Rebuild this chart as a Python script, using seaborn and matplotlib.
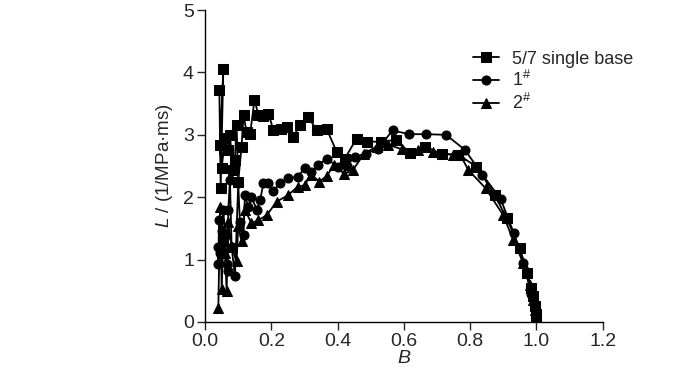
import pandas as pd
import matplotlib
matplotlib.use("Agg")
import matplotlib.pyplot as plt
import seaborn as sns

# -------------------------------
# Data
# -------------------------------
sq_B = [0.043, 0.047, 0.055, 0.045, 0.050, 0.060, 0.070, 0.075, 0.083, 0.090,
        0.095, 0.100, 0.110, 0.116, 0.125, 0.136, 0.149, 0.161, 0.175, 0.191,
        0.206, 0.230, 0.246, 0.266, 0.286, 0.310, 0.337, 0.367, 0.397, 0.422,
        0.457, 0.490, 0.530, 0.576, 0.618, 0.665, 0.716, 0.764, 0.819, 0.874,
        0.910, 0.950, 0.973, 0.985, 0.990, 0.995, 0.998, 1.000]
sq_L = [3.72, 2.14, 4.05, 2.84, 2.46, 2.95, 2.76, 3.00, 2.44, 2.60,
        3.16, 2.25, 2.81, 3.32, 3.05, 3.02, 3.56, 3.32, 3.30, 3.34,
        3.08, 3.10, 3.13, 2.96, 3.16, 3.29, 3.08, 3.09, 2.73, 2.62,
        2.94, 2.89, 2.89, 2.92, 2.71, 2.81, 2.69, 2.68, 2.49, 2.04,
        1.66, 1.18, 0.78, 0.55, 0.41, 0.25, 0.12, 0.02]

c_B = [0.038, 0.040, 0.042, 0.045, 0.050, 0.055, 0.060, 0.066, 0.068, 0.070,
       0.075, 0.080, 0.090, 0.100, 0.105, 0.116, 0.120, 0.130, 0.140, 0.156,
       0.166, 0.176, 0.190, 0.205, 0.226, 0.251, 0.280, 0.300, 0.320, 0.340,
       0.367, 0.402, 0.427, 0.452, 0.487, 0.522, 0.566, 0.616, 0.666, 0.727,
       0.784, 0.837, 0.892, 0.932, 0.960, 0.985, 0.998, 1.000]
c_L = [1.20, 0.93, 1.63, 1.10, 1.45, 1.80, 1.37, 0.93, 0.82, 1.80,
       2.28, 1.20, 0.73, 2.22, 1.60, 1.39, 2.03, 1.85, 2.00, 1.80,
       1.95, 2.22, 2.22, 2.10, 2.22, 2.30, 2.33, 2.46, 2.40, 2.52,
       2.61, 2.49, 2.50, 2.65, 2.70, 2.78, 3.07, 3.01, 3.01, 3.00,
       2.76, 2.36, 1.97, 1.42, 0.94, 0.45, 0.15, 0.03]

t_B = [0.040, 0.045, 0.050, 0.050, 0.055, 0.060, 0.065, 0.070, 0.080, 0.095,
       0.100, 0.110, 0.120, 0.140, 0.160, 0.186, 0.216, 0.250, 0.280, 0.300,
       0.320, 0.345, 0.367, 0.390, 0.420, 0.447, 0.480, 0.518, 0.553, 0.593,
       0.643, 0.688, 0.747, 0.770, 0.794, 0.847, 0.900, 0.930, 0.960, 0.982,
       0.990, 0.996, 1.000]
t_L = [0.22, 1.85, 0.40, 0.67, 1.30, 1.10, 0.50, 1.60, 1.20, 0.97,
       1.54, 1.30, 1.80, 1.58, 1.63, 1.71, 1.93, 2.03, 2.17, 2.19,
       2.36, 2.25, 2.34, 2.52, 2.37, 2.44, 2.70, 2.81, 2.84, 2.77,
       2.75, 2.73, 2.68, 2.68, 2.44, 2.14, 1.71, 1.31, 0.95, 0.59,
       0.35, 0.19, 0.00]

labels = ["5/7 single base", r"1$^{\#}$", r"2$^{\#}$"]
markers = ["s", "o", "^"]

# -------------------------------
# Style
# -------------------------------
sns.set_style("ticks")
plt.rcParams["font.family"] = ["Liberation Sans", "DejaVu Sans"]
plt.rcParams["mathtext.fontset"] = "custom"
plt.rcParams["mathtext.rm"] = "Liberation Sans"
plt.rcParams["mathtext.it"] = "Liberation Sans:italic"

fig = plt.figure(figsize=(7, 3.73), dpi=100)
ax = fig.add_axes([0.293, 0.137, 0.568, 0.836])

series = [(sq_B, sq_L), (c_B, c_L), (t_B, t_L)]
for (xs, ys), lab, m in zip(series, labels, markers):
    df = pd.DataFrame({"B": xs, "L": ys})
    sns.lineplot(
        data=df, x="B", y="L", sort=False, ax=ax,
        color="black", linewidth=1.3, marker=m, markersize=6.5,
        markeredgecolor="black", label=lab
    )

ax.set_xlim(0, 1.2)
ax.set_ylim(0, 5)
ax.set_xticks([0.0, 0.2, 0.4, 0.6, 0.8, 1.0, 1.2])
ax.set_xticklabels(["0.0", "0.2", "0.4", "0.6", "0.8", "1.0", "1.2"])
ax.set_yticks([0, 1, 2, 3, 4, 5])
ax.tick_params(axis="both", labelsize=14, length=6, width=1,
               direction="out", pad=2)
ax.set_xlabel("$B$", fontsize=14, labelpad=0)
ax.set_ylabel("$L$ / (1/MPa·ms)", fontsize=13.5, labelpad=6)
for s in ["left", "bottom"]:
    ax.spines[s].set_linewidth(1)
    ax.spines[s].set_color("black")
sns.despine(ax=ax)

ax.legend(loc="upper left", bbox_to_anchor=(0.675, 0.87), frameon=False,
          fontsize=13, handlelength=1.4, handletextpad=0.75,
          labelspacing=0.15, borderaxespad=0, borderpad=0)

fig.savefig("out.png", dpi=100)
